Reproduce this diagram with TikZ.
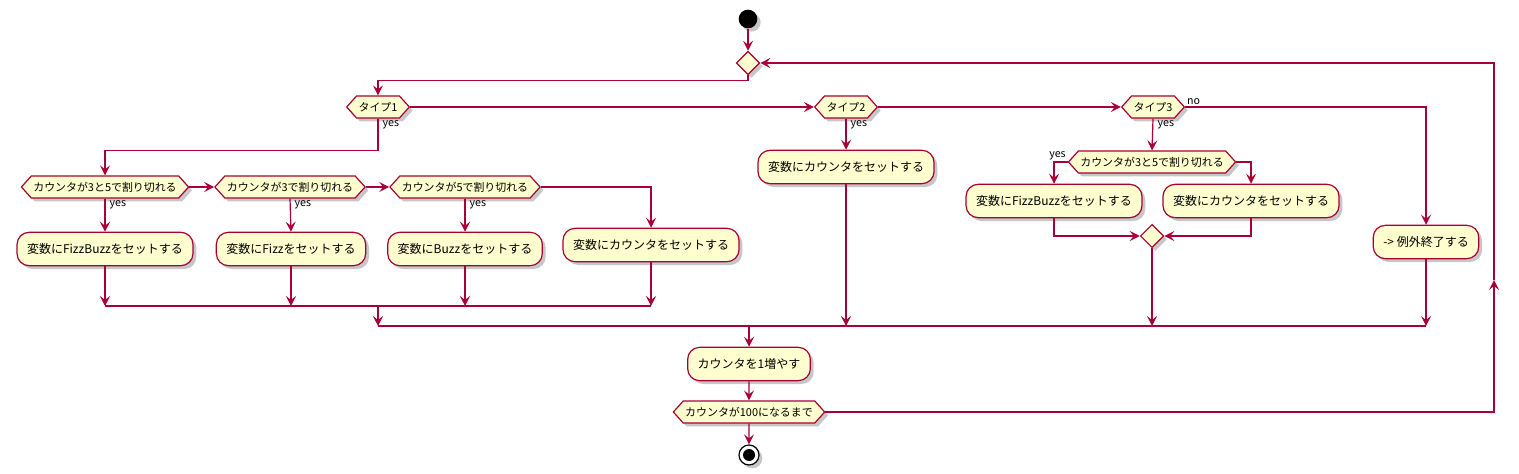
\documentclass[tikz,border=0pt]{standalone}
\usepackage{fontspec}
\newfontfamily\jpfont{Noto Sans CJK JP}
\usetikzlibrary{arrows.meta,shapes.geometric,shapes.symbols,shadows}

\definecolor{umlred}{HTML}{A80036}
\definecolor{umlfill}{HTML}{FEFECE}

\begin{document}
\begin{tikzpicture}[x=0.75pt, y=-0.75pt,
        umlshadow/.style={drop shadow={shadow xshift=2.5pt, shadow yshift=-2.5pt, opacity=0.22, fill=black}},
        action/.style={rectangle, rounded corners=9pt, draw=umlred, fill=umlfill, line width=0.9pt, minimum height=25pt, inner xsep=7.5pt, font=\jpfont\fontsize{9}{11}\selectfont, umlshadow},
        cond/.style={signal, signal to=east and west, signal pointer angle=96, draw=umlred, fill=umlfill, line width=0.9pt, minimum height=16.5pt, inner xsep=1.5pt, inner ysep=1pt, font=\jpfont\fontsize{8.2}{10}\selectfont, umlshadow},
        merge/.style={diamond, draw=umlred, fill=umlfill, line width=0.9pt, minimum size=17.5pt, inner sep=0pt, umlshadow},
        startdot/.style={circle, fill=black, minimum size=14pt, inner sep=0pt, umlshadow},
        stopring/.style={circle, draw=black, line width=0.9pt, fill=white, minimum size=15pt, inner sep=0pt, umlshadow},
        stopdot/.style={circle, fill=black, minimum size=9pt, inner sep=0pt},
        wire/.style={draw=umlred, line width=0.9pt},
        flow/.style={wire, -{Stealth[length=7.5pt, width=7.5pt, inset=3pt]}},
        lbl/.style={font=\jpfont\fontsize{8}{9}\selectfont, inner sep=1pt}]
        \useasboundingbox (0, 0) rectangle (1519, 474);

        \draw (748, 19) node[startdot](start){}
        (748, 63) node[merge](mrg){}
        (378, 107) node[cond](t1){タイプ1}
        (846, 107) node[cond](t2){タイプ2}
        (1153, 107) node[cond](t3){タイプ3};

        \draw (105, 187) node[cond](c1){カウンタが3と5で割り切れる}
        (290, 187) node[cond](c2){カウンタが3で割り切れる}
        (465, 187) node[cond](c3){カウンタが5で割り切れる}
        (105, 249) node[action](a1){変数にFizzBuzzをセットする}
        (291, 249) node[action](a2){変数にFizzをセットする}
        (465, 249) node[action](a3){変数にBuzzをセットする}
        (651, 245) node[action](a4){変数にカウンタをセットする};

        \draw (846, 167) node[action](b2){変数にカウンタをセットする}
        (1152, 162) node[cond](c5){カウンタが3と5で割り切れる}
        (1054, 201) node[action](b3){変数にFizzBuzzをセットする}
        (1251, 201) node[action](b4){変数にカウンタをセットする}
        (1152, 236) node[merge](m3){}
        (1426, 242) node[action](ex){-> 例外終了する};

        \draw (749, 364) node[action](inc){カウンタを1増やす}
        (749, 412) node[cond](until){カウンタが100になるまで}
        (749, 455) node[stopring](stop){};
        \node[stopdot] (stopin) at (stop) {};

        \coordinate (bar1) at (378, 306);
        \coordinate (bar2) at (749, 326);
        \coordinate (back) at (1494, 280);

        % loop head
        \draw[flow] (start) -- (mrg);
        \draw[flow] (mrg.south) -- ++(0, 5) -| (t1.north);
        \draw[flow] (t1.east) -- (t2.west);
        \draw[flow] (t2.east) -- (t3.west);
        \draw[flow] (t3.east) node[lbl, anchor=south west]{no} -| (ex.north);

        % type 1
        \draw[flow] (t1.south) node[lbl, anchor=north west, xshift=2pt]{yes} -- ++(0, 32) -| (c1.north);
        \draw[flow] (c1.east) -- (c2.west);
        \draw[flow] (c2.east) -- (c3.west);
        \draw[flow] (c3.east) -| (a4.north);
        \draw[flow] (c1.south) node[lbl, anchor=north west, xshift=2pt]{yes} -- (a1.north);
        \draw[flow] (c2.south) node[lbl, anchor=north west, xshift=2pt]{yes} -- (a2.north);
        \draw[flow] (c3.south) node[lbl, anchor=north west, xshift=2pt]{yes} -- (a3.north);
        \draw[flow] (a1.south) -- (a1.south |- bar1);
        \draw[flow] (a2.south) -- (a2.south |- bar1);
        \draw[flow] (a3.south) -- (a3.south |- bar1);
        \draw[flow] (a4.south) -- (a4.south |- bar1);
        \draw[wire] (a1.south |- bar1) -- (a4.south |- bar1);
        \draw[flow] (bar1) -- (bar1 |- bar2);

        % type 2 and 3
        \draw[flow] (t2.south) node[lbl, anchor=north west, xshift=2pt]{yes} -- (b2.north);
        \draw[flow] (t3.south) node[lbl, anchor=north west, xshift=2pt]{yes} -- (c5.north);
        \draw[flow] (c5.west) node[lbl, anchor=south east]{yes} -| (b3.north);
        \draw[flow] (c5.east) -| (b4.north);
        \draw[flow] (b3.south) |- (m3.west);
        \draw[flow] (b4.south) |- (m3.east);
        \draw[flow] (b2.south) -- (b2.south |- bar2);
        \draw[flow] (m3.south) -- (m3.south |- bar2);
        \draw[flow] (ex.south) -- (ex.south |- bar2);
        \draw[wire] (bar1 |- bar2) -- (ex.south |- bar2);

        % loop tail
        \draw[flow] (bar2) -- (inc.north);
        \draw[flow] (inc) -- (until);
        \draw[flow] (until) -- (stop);
        \draw[flow] (until.east) -| (back);
        \draw[flow] (back) |- (mrg.east);
    \end{tikzpicture}
\end{document}
